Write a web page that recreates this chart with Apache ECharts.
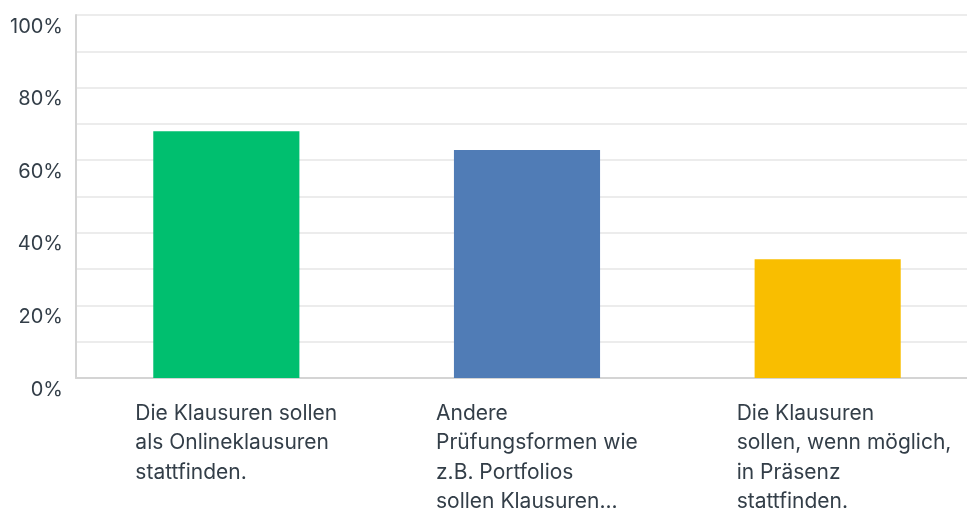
<!DOCTYPE html>
<html>
<head>
<meta charset="utf-8">
<script src="https://cdn.jsdelivr.net/npm/echarts@6/dist/echarts.min.js"></script>
<style>
  html, body { margin: 0; padding: 0; background: #ffffff; }
  #chart { width: 967px; height: 509px; }
</style>
</head>
<body>
<div id="chart"></div>
<script>
// Answer options (line breaks as wrapped under each bar)
var categories = [
  'Die Klausuren sollen\nals Onlineklausuren\nstattfinden.',
  'Andere\nPrüfungsformen wie\nz.B. Portfolios\nsollen Klausuren...',
  'Die Klausuren\nsollen, wenn möglich,\nin Präsenz\nstattfinden.'
];
// Share of respondents per option, in percent
var shares = [68.0, 62.8, 32.7];
// Percent scale and labelled ticks
var yTicks = [0, 20, 40, 60, 80, 100];

var barColors = ['#00bf6f', '#507cb6', '#f9be00'];
var textColor = '#333e48';

var chart = echarts.init(document.getElementById('chart'), null, { renderer: 'canvas' });

chart.setOption({
  animation: false,
  backgroundColor: '#ffffff',
  // the plot runs a little past the right edge of the canvas
  grid: {
    left: 76, width: 902, top: 15, height: 363,
    outerBoundsMode: 'none', containLabel: false
  },
  xAxis: {
    type: 'category',
    data: categories,
    axisLine: { show: true, lineStyle: { color: '#d4d4d4', width: 2 } },
    axisTick: { show: false },
    splitLine: { show: false },
    axisLabel: {
      interval: 0,
      margin: 21,
      align: 'center',
      verticalAlign: 'top',
      formatter: function (v) {
        return v.split('\n').map(function (l) { return '{t|' + l + '}'; }).join('\n');
      },
      rich: {
        t: {
          width: 182,
          align: 'left',
          fontFamily: 'Inter',
          fontSize: 21,
          lineHeight: 29.3,
          color: textColor
        }
      }
    }
  },
  yAxis: {
    type: 'value',
    min: yTicks[0],
    max: yTicks[yTicks.length - 1],
    interval: 10,
    axisLine: { show: true, lineStyle: { color: '#d4d4d4', width: 2 } },
    axisTick: { show: false },
    splitLine: { show: true, lineStyle: { color: '#ececec', width: 2 } },
    axisLabel: {
      margin: 13,
      verticalAlign: 'top',
      lineHeight: 23,
      fontFamily: 'Inter',
      fontSize: 20,
      color: textColor,
      formatter: function (v) {
        return yTicks.indexOf(v) >= 0 ? v + '%' : '';
      }
    }
  },
  series: [{
    type: 'bar',
    barWidth: '48.6%',
    data: shares.map(function (v, i) {
      return { value: v, itemStyle: { color: barColors[i] } };
    })
  }]
});
</script>
</body>
</html>
